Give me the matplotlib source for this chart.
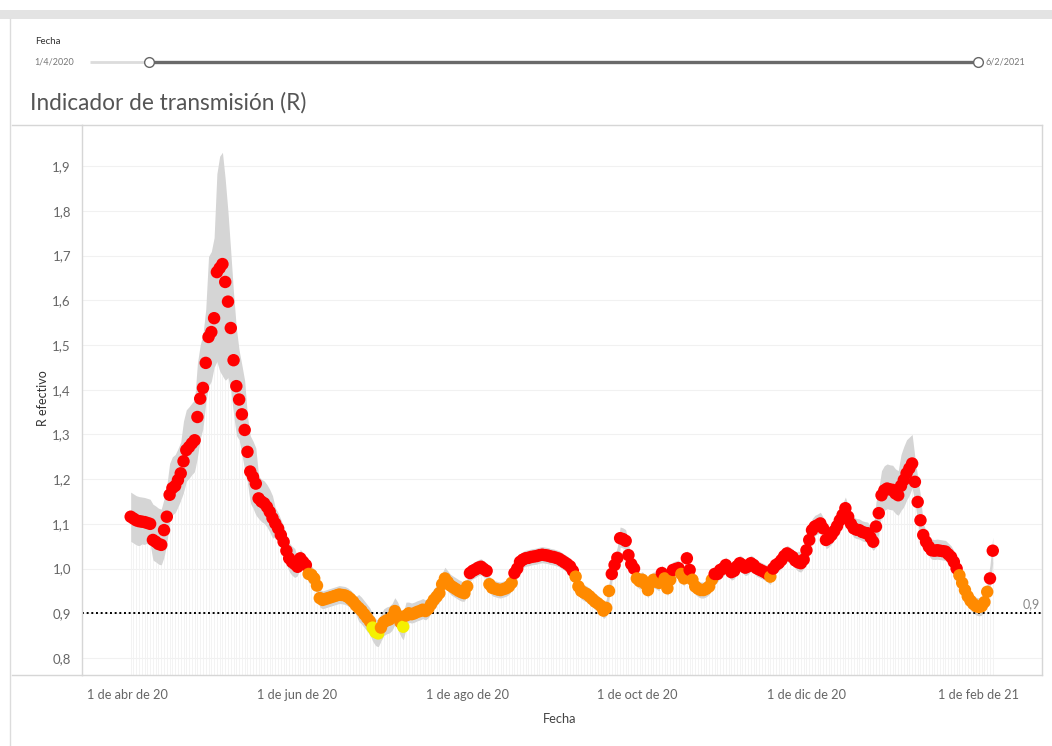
import matplotlib
matplotlib.use('Agg')
import matplotlib.pyplot as plt
import matplotlib.dates as mdates
from matplotlib.patches import Rectangle
from matplotlib.lines import Line2D
import matplotlib.transforms as mtransforms
import numpy as np
import pandas as pd

# ---------------- data ----------------
start_date = '2020-04-02'

r_values = [
    1.116, 1.112, 1.108, 1.106, 1.105, 1.104, 1.102, 1.100, 1.064, 1.060,
    1.055, 1.053, 1.086, 1.116, 1.165, 1.180, 1.185, 1.198, 1.213, 1.240,
    1.265, 1.272, 1.280, 1.287, 1.339, 1.380, 1.404, 1.460, 1.518, 1.529,
    1.560, 1.663, 1.672, 1.681, 1.641, 1.597, 1.538, 1.466, 1.408, 1.378,
    1.345, 1.310, 1.261, 1.217, 1.205, 1.190, 1.157, 1.150, 1.146, 1.138,
    1.127, 1.113, 1.101, 1.090, 1.075, 1.060, 1.040, 1.023, 1.015, 1.010,
    1.004, 1.023, 1.015, 1.008, 0.988, 0.986, 0.978, 0.962, 0.934, 0.930,
    0.932, 0.934, 0.936, 0.938, 0.940, 0.942, 0.941, 0.940, 0.937, 0.932,
    0.926, 0.918, 0.912, 0.906, 0.898, 0.890, 0.882, 0.868, 0.858, 0.855,
    0.868, 0.880, 0.884, 0.886, 0.892, 0.905, 0.895, 0.880, 0.870, 0.895,
    0.900, 0.898, 0.900, 0.903, 0.905, 0.908, 0.905, 0.910, 0.920, 0.930,
    0.937, 0.945, 0.965, 0.978, 0.970, 0.962, 0.958, 0.954, 0.950, 0.947,
    0.945, 0.960, 0.990, 0.995, 0.998, 1.002, 1.004, 0.999, 0.995, 0.965,
    0.957, 0.955, 0.953, 0.952, 0.954, 0.956, 0.960, 0.968, 0.990, 1.000,
    1.015, 1.020, 1.023, 1.024, 1.026, 1.027, 1.028, 1.030, 1.031, 1.030,
    1.029, 1.027, 1.026, 1.024, 1.022, 1.018, 1.014, 1.010, 1.005, 0.995,
    0.982, 0.960, 0.950, 0.946, 0.943, 0.938, 0.932, 0.926, 0.922, 0.917,
    0.906, 0.912, 0.950, 0.988, 1.008, 1.024, 1.068, 1.066, 1.062, 1.030,
    1.010, 1.000, 0.978, 0.972, 0.975, 0.966, 0.952, 0.968, 0.975, 0.972,
    0.968, 0.990, 0.978, 0.956, 0.975, 0.997, 0.999, 1.001, 0.988, 0.978,
    1.023, 0.997, 0.975, 0.960, 0.955, 0.952, 0.952, 0.955, 0.960, 0.975,
    0.988, 0.988, 0.997, 1.000, 1.008, 1.000, 0.992, 0.995, 1.005, 1.012,
    1.008, 1.002, 1.005, 1.012, 1.008, 1.001, 0.998, 0.995, 0.992, 0.988,
    0.982, 1.000, 1.008, 1.012, 1.019, 1.028, 1.034, 1.030, 1.026, 1.018,
    1.014, 1.012, 1.020, 1.041, 1.064, 1.086, 1.094, 1.097, 1.101, 1.090,
    1.064, 1.068, 1.075, 1.084, 1.095, 1.108, 1.120, 1.135, 1.116, 1.100,
    1.090, 1.087, 1.086, 1.082, 1.080, 1.079, 1.070, 1.060, 1.094, 1.124,
    1.164, 1.175, 1.179, 1.177, 1.176, 1.168, 1.164, 1.185, 1.198, 1.213,
    1.224, 1.235, 1.194, 1.149, 1.108, 1.075, 1.060, 1.049, 1.041, 1.040,
    1.041, 1.040, 1.039, 1.038, 1.032, 1.026, 1.015, 1.000, 0.985, 0.968,
    0.952, 0.938, 0.928, 0.921, 0.916, 0.914, 0.916, 0.925, 0.948, 0.978,
    1.040,
]

# R = red, O = orange, Y = yellow (one code per day)
color_codes = (
    "RRRRRRRRRR" "RRRRRRRRRR" "RRRRRRRRRR" "RRRRRRRRRR" "RRRRRRRRRR"
    "RRRRRRRRRR" "RRRROOOOOO" "OOOOOOOOOO" "OOOOOOOYYY" "OOOOOOOOYO"
    "OOOOOOOOOO" "OOOOOOOOOO" "OORRRRRRRO" "OOOOOOOORR" "RRRRRRRRRR"
    "RRRRRRRRRR" "OOOOOOOOOO" "OOORRRRRRR" "RROOOOOOOO" "OROOORRROO"
    "RROOOOOOOO" "RRRRRRRRRR" "RRRRRRRRRR" "ORRRRRRRRR" "RRRRRRRRRR"
    "RRRRRRRRRR" "RRRRRRRRRR" "RRRRRRRRRR" "RRRRRRRRRR" "RRRRRRRROO"
    "OOOOOOOOOR" "R"
)

ci_upper_offset = [
    0.055, 0.055, 0.055, 0.055, 0.055, 0.055, 0.055, 0.055, 0.080, 0.080,
    0.080, 0.080, 0.070, 0.070, 0.070, 0.070, 0.070, 0.070, 0.070, 0.090,
    0.090, 0.090, 0.090, 0.090, 0.120, 0.120, 0.120, 0.120, 0.180, 0.180,
    0.180, 0.220, 0.250, 0.250, 0.230, 0.200, 0.170, 0.150, 0.130, 0.110,
    0.110, 0.110, 0.080, 0.080, 0.080, 0.080, 0.050, 0.050, 0.050, 0.050,
    0.050, 0.050, 0.035, 0.035, 0.035, 0.035, 0.035, 0.035, 0.035, 0.035,
    0.020, 0.020, 0.020, 0.020, 0.020, 0.020, 0.020, 0.020, 0.020, 0.020,
    0.020, 0.020, 0.020, 0.020, 0.020, 0.020, 0.020, 0.020, 0.020, 0.020,
    0.020, 0.020, 0.030, 0.030, 0.030, 0.030, 0.030, 0.030, 0.030, 0.030,
    0.030, 0.030, 0.030, 0.030, 0.030, 0.030, 0.030, 0.030, 0.030, 0.030,
    0.025, 0.025, 0.025, 0.025, 0.025, 0.025, 0.025, 0.025, 0.025, 0.025,
    0.025, 0.025, 0.025, 0.025, 0.025, 0.025, 0.025, 0.025, 0.025, 0.025,
    0.018, 0.018, 0.018, 0.018, 0.018, 0.018, 0.018, 0.018, 0.018, 0.018,
    0.018, 0.018, 0.018, 0.018, 0.018, 0.018, 0.018, 0.018, 0.018, 0.018,
    0.018, 0.018, 0.018, 0.018, 0.018, 0.018, 0.018, 0.018, 0.018, 0.018,
    0.018, 0.018, 0.018, 0.018, 0.018, 0.018, 0.018, 0.018, 0.018, 0.018,
    0.018, 0.018, 0.018, 0.018, 0.018, 0.018, 0.018, 0.018, 0.018, 0.018,
    0.018, 0.018, 0.018, 0.018, 0.018, 0.025, 0.025, 0.025, 0.025, 0.025,
    0.018, 0.018, 0.018, 0.018, 0.018, 0.018, 0.018, 0.018, 0.018, 0.018,
    0.018, 0.018, 0.018, 0.018, 0.018, 0.018, 0.018, 0.018, 0.018, 0.018,
    0.018, 0.018, 0.018, 0.018, 0.018, 0.018, 0.018, 0.018, 0.018, 0.018,
    0.018, 0.018, 0.018, 0.018, 0.018, 0.018, 0.018, 0.018, 0.018, 0.018,
    0.018, 0.018, 0.018, 0.018, 0.018, 0.018, 0.018, 0.018, 0.018, 0.018,
    0.018, 0.018, 0.018, 0.018, 0.018, 0.018, 0.018, 0.018, 0.018, 0.018,
    0.025, 0.025, 0.025, 0.025, 0.025, 0.025, 0.025, 0.025, 0.025, 0.025,
    0.025, 0.025, 0.025, 0.025, 0.025, 0.025, 0.025, 0.025, 0.025, 0.025,
    0.025, 0.025, 0.025, 0.025, 0.025, 0.025, 0.025, 0.025, 0.055, 0.055,
    0.055, 0.055, 0.055, 0.055, 0.055, 0.055, 0.055, 0.070, 0.075, 0.075,
    0.070, 0.065, 0.055, 0.055, 0.055, 0.025, 0.025, 0.025, 0.025, 0.025,
    0.025, 0.025, 0.025, 0.025, 0.025, 0.025, 0.025, 0.025, 0.020, 0.020,
    0.020, 0.020, 0.020, 0.020, 0.020, 0.020, 0.020, 0.020, 0.020, 0.030,
    0.030,
]

ci_lower_offset = [
    0.055, 0.055, 0.055, 0.055, 0.050, 0.050, 0.045, 0.045, 0.045, 0.045,
    0.045, 0.045, 0.060, 0.060, 0.060, 0.060, 0.060, 0.060, 0.060, 0.070,
    0.070, 0.070, 0.070, 0.070, 0.090, 0.090, 0.090, 0.090, 0.110, 0.110,
    0.110, 0.200, 0.230, 0.250, 0.220, 0.170, 0.140, 0.120, 0.110, 0.090,
    0.090, 0.090, 0.070, 0.070, 0.070, 0.070, 0.045, 0.045, 0.045, 0.045,
    0.045, 0.045, 0.030, 0.030, 0.030, 0.030, 0.030, 0.030, 0.030, 0.030,
    0.020, 0.020, 0.020, 0.020, 0.020, 0.020, 0.020, 0.020, 0.020, 0.020,
    0.020, 0.020, 0.020, 0.020, 0.020, 0.020, 0.020, 0.020, 0.020, 0.020,
    0.020, 0.020, 0.030, 0.030, 0.030, 0.030, 0.030, 0.030, 0.030, 0.030,
    0.030, 0.030, 0.030, 0.030, 0.030, 0.030, 0.030, 0.030, 0.030, 0.030,
    0.020, 0.020, 0.020, 0.020, 0.020, 0.020, 0.020, 0.020, 0.020, 0.020,
    0.020, 0.020, 0.020, 0.020, 0.020, 0.020, 0.020, 0.020, 0.020, 0.020,
    0.018, 0.018, 0.018, 0.018, 0.018, 0.018, 0.018, 0.018, 0.018, 0.018,
    0.018, 0.018, 0.018, 0.018, 0.018, 0.018, 0.018, 0.018, 0.018, 0.018,
    0.018, 0.018, 0.018, 0.018, 0.018, 0.018, 0.018, 0.018, 0.018, 0.018,
    0.018, 0.018, 0.018, 0.018, 0.018, 0.018, 0.018, 0.018, 0.018, 0.018,
    0.018, 0.018, 0.018, 0.018, 0.018, 0.018, 0.018, 0.018, 0.018, 0.018,
    0.018, 0.018, 0.018, 0.018, 0.018, 0.020, 0.020, 0.020, 0.020, 0.020,
    0.018, 0.018, 0.018, 0.018, 0.018, 0.018, 0.018, 0.018, 0.018, 0.018,
    0.018, 0.018, 0.018, 0.018, 0.018, 0.018, 0.018, 0.018, 0.018, 0.018,
    0.018, 0.018, 0.018, 0.018, 0.018, 0.018, 0.018, 0.018, 0.018, 0.018,
    0.018, 0.018, 0.018, 0.018, 0.018, 0.018, 0.018, 0.018, 0.018, 0.018,
    0.018, 0.018, 0.018, 0.018, 0.018, 0.018, 0.018, 0.018, 0.018, 0.018,
    0.018, 0.018, 0.018, 0.018, 0.018, 0.018, 0.018, 0.018, 0.018, 0.018,
    0.020, 0.020, 0.020, 0.020, 0.020, 0.020, 0.020, 0.020, 0.020, 0.020,
    0.020, 0.020, 0.020, 0.020, 0.020, 0.020, 0.020, 0.020, 0.020, 0.020,
    0.020, 0.020, 0.020, 0.020, 0.020, 0.020, 0.020, 0.020, 0.045, 0.045,
    0.045, 0.045, 0.045, 0.045, 0.045, 0.045, 0.045, 0.055, 0.060, 0.060,
    0.060, 0.055, 0.045, 0.045, 0.045, 0.020, 0.020, 0.020, 0.020, 0.020,
    0.020, 0.020, 0.020, 0.020, 0.020, 0.020, 0.020, 0.020, 0.020, 0.020,
    0.020, 0.020, 0.020, 0.020, 0.020, 0.020, 0.020, 0.020, 0.020, 0.025,
    0.025,
]

y_ticks = [0.8, 0.9, 1.0, 1.1, 1.2, 1.3, 1.4, 1.5, 1.6, 1.7, 1.8, 1.9]
y_tick_labels = ['0,8', '0,9', '1,0', '1,1', '1,2', '1,3', '1,4', '1,5',
                 '1,6', '1,7', '1,8', '1,9']
x_tick_dates = ['2020-04-01', '2020-06-01', '2020-08-01', '2020-10-01',
                '2020-12-01', '2021-02-01']
x_tick_labels = ['1 de abr de 20', '1 de jun de 20', '1 de ago de 20',
                 '1 de oct de 20', '1 de dic de 20', '1 de feb de 21']
reference_value = 0.9
reference_label = '0,9'
title_text = 'Indicador de transmisión (R)'
y_label = 'R efectivo'
x_label = 'Fecha'
filter_label = 'Fecha'
slider_start_label = '1/4/2020'
slider_end_label = '6/2/2021'

palette = {'R': '#ff0000', 'O': '#ff8a00', 'Y': '#f5f000'}

# ---------------- figure ----------------
plt.rcParams['font.family'] = ['Lato', 'DejaVu Sans']

W, H = 1052, 746
fig = plt.figure(figsize=(W / 100, H / 100), dpi=100)
fig.patch.set_facecolor('white')


def fx(px):
    return px / W


def fy(py):
    return 1 - py / H


# grey band at top and panel border
fig.add_artist(Rectangle((0, fy(19)), 1, fy(10) - fy(19),
                         transform=fig.transFigure, color='#e3e3e3', lw=0))
fig.add_artist(Line2D([fx(10), fx(10)], [fy(19), 0], color='#dcdcdc', lw=1))

# filter / slider header
fig.text(fx(35), fy(42), filter_label, fontsize=7, color='#333333',
         ha='left', va='center')
fig.text(fx(34), fy(62), slider_start_label, fontsize=6.5, color='#777777',
         ha='left', va='center')
fig.text(fx(985), fy(62), slider_end_label, fontsize=6.5, color='#777777',
         ha='left', va='center')
fig.add_artist(Line2D([fx(90), fx(148)], [fy(62), fy(62)], color='#dcdcdc',
                      lw=2, solid_capstyle='butt'))
fig.add_artist(Line2D([fx(150), fx(977)], [fy(62), fy(62)], color='#6a6a6a',
                      lw=2.4, solid_capstyle='butt'))
fig.add_artist(Line2D([fx(149)], [fy(62)], marker='o', markersize=7,
                      markerfacecolor='white', markeredgecolor='#666666',
                      markeredgewidth=1.0))
fig.add_artist(Line2D([fx(978)], [fy(62)], marker='o', markersize=7,
                      markerfacecolor='white', markeredgecolor='#666666',
                      markeredgewidth=1.0))

# title
fig.text(fx(30), fy(103), title_text, fontsize=16.3, color='#555555',
         ha='left', va='center')

# axes
ax = fig.add_axes([fx(82), fy(675), fx(1042) - fx(82), fy(125) - fy(675)])

dates = pd.date_range(start_date, periods=len(r_values), freq='D')
xs = mdates.date2num(dates.to_pydatetime())
r = np.array(r_values)
upper = r + np.array(ci_upper_offset)
lower = r - np.array(ci_lower_offset)
cols = [palette[c] for c in color_codes]

ymin, ymax = 0.762, 1.992
ax.set_ylim(ymin, ymax)
x_origin = mdates.date2num(pd.Timestamp('2020-04-01').to_pydatetime())
ax.set_xlim(x_origin - 16.5, x_origin + 328.7)

for t in y_ticks:
    ax.axhline(t, color='#f1f1f1', lw=0.8, zorder=0)

ax.vlines(xs, ymin, lower, color='#f1f1f1', lw=0.6, zorder=0.5)
ax.fill_between(xs, lower, upper, color='#d5d5d5', lw=0, zorder=1)
ax.axhline(reference_value, color='black', lw=1.4, ls=(0, (1, 1.4)), zorder=2)
ax.scatter(xs, r, s=80, c=cols, linewidths=0, zorder=3)

trans = mtransforms.blended_transform_factory(ax.transAxes, ax.transData)
ax.text(0.998, reference_value + 0.006, reference_label, transform=trans,
        ha='right', va='bottom', fontsize=9, color='#888888')

ax.set_yticks(y_ticks)
ax.set_yticklabels(y_tick_labels)
tick_pos = [mdates.date2num(pd.Timestamp(d).to_pydatetime()) for d in x_tick_dates]
ax.set_xticks(tick_pos)
ax.set_xticklabels(x_tick_labels)
ax.tick_params(axis='y', length=0, pad=8, labelsize=9.5, labelcolor='#666666')
ax.tick_params(axis='x', length=0, pad=10, labelsize=9.2, labelcolor='#666666')

for side in ['top', 'right', 'bottom', 'left']:
    ax.spines[side].set_color('#d6d6d6')
    ax.spines[side].set_linewidth(1.0)

# frame lines extending left of the axes
fig.add_artist(Line2D([fx(12), fx(82)], [fy(125), fy(125)], color='#d6d6d6', lw=1))
fig.add_artist(Line2D([fx(12), fx(82)], [fy(675), fy(675)], color='#d6d6d6', lw=1))

fig.text(fx(43), fy(398), y_label, rotation=90, fontsize=9, color='#333333',
         ha='center', va='center')
fig.text(fx(560), fy(719), x_label, fontsize=9.3, color='#444444',
         ha='center', va='center')

fig.savefig('out.png', dpi=100)
